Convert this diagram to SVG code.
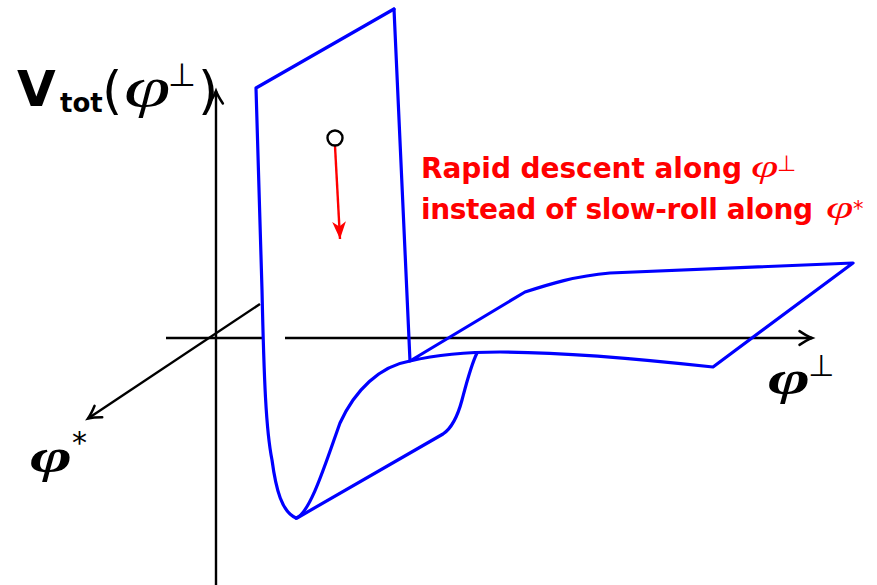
<svg xmlns="http://www.w3.org/2000/svg" width="877" height="585" viewBox="0 0 877 585">
<style>
.ax{stroke:#000;stroke-width:2.4;fill:none}
.bl{stroke:#0000ff;stroke-width:3.2;fill:none;stroke-linejoin:round;stroke-linecap:round}
.red{fill:#ff0000;font-family:"DejaVu Sans",sans-serif;font-weight:bold;font-size:28px}
.m{font-family:"Liberation Serif",serif;font-style:italic}
.s{font-family:"DejaVu Sans",sans-serif}
</style>
<defs>
<marker id="arr" markerUnits="userSpaceOnUse" markerWidth="20" markerHeight="20" refX="0" refY="0" viewBox="-12 -8 14 16" orient="auto" overflow="visible">
<path d="M -10,-5.5 Q -4,-1.5 0,0 Q -4,1.5 -10,5.5" stroke="#000" stroke-width="2" fill="none" stroke-linecap="round"/>
</marker>
<marker id="rarr" markerUnits="userSpaceOnUse" markerWidth="20" markerHeight="20" refX="0" refY="0" viewBox="-14 -7 16 14" orient="auto" overflow="visible">
<path d="M 0,0 L -14,-5.5 L -10,0 L -14,5.5 Z" fill="#ff0000"/>
</marker>
</defs>
<g id="connectors">
<line class="ax" x1="216" y1="585" x2="216" y2="91" marker-end="url(#arr)"/>
<line class="ax" x1="166" y1="338" x2="264" y2="338"/>
<line class="ax" x1="285" y1="338" x2="812" y2="338" marker-end="url(#arr)"/>
<line class="ax" x1="260" y1="304" x2="88" y2="418.5" marker-end="url(#arr)"/>
<line x1="335" y1="146" x2="340" y2="239" stroke="#ff0000" stroke-width="2.4" marker-end="url(#rarr)"/>
</g>
<g id="surface">
<path class="bl" d="M 394,9 L 256,88 L 262,290 C 264,380 266,430 272,460 C 276,490 282,512 296,518"/>
<path class="bl" d="M 394,9 L 410,361"/>
<path class="bl" d="M 296,518 C 310,514 326,462 340,423 C 355,390 380,366 410,361 C 440,354 470,352 500,352 C 560,352 650,360 713,367 L 853,263 L 610,273 C 575,276 550,284 525,292 L 410,361"/>
<path class="bl" d="M 297,518 L 443,434 C 452,428 458,415 462,400 C 466,385 471,365 477,353"/>
</g>
<g id="ball">
<circle cx="335" cy="138" r="7.5" fill="#fff" stroke="#000" stroke-width="2.4"/>
</g>
<g id="label-V">
<text x="17" y="106" class="s" font-weight="bold" font-size="50">V</text>
<text x="60" y="112" class="s" font-weight="bold" font-size="26">tot</text>
<text x="102" y="108" class="s" font-size="52">(</text>
<text transform="translate(124,106) scale(1.5,1)" class="m" font-size="56">φ</text>
<text x="168" y="86" class="s" font-size="32">⊥</text>
<text x="198" y="108" class="s" font-size="52">)</text>
</g>
<g id="label-note">
<text x="421" y="178" class="red" textLength="321">Rapid descent along</text>
<text transform="translate(751,177) scale(1.55,1)" class="m" fill="#ff0000" font-size="32">φ</text>
<text x="777" y="171" class="s" fill="#ff0000" font-size="22">⊥</text>
<text x="421" y="219" class="red" textLength="392">instead of slow-roll along</text>
<text transform="translate(826,218) scale(1.55,1)" class="m" fill="#ff0000" font-size="32">φ</text>
<text x="853" y="216" class="s" fill="#ff0000" font-size="21">*</text>
</g>
<g id="label-perp">
<text transform="translate(768,394) scale(1.5,1)" class="m" font-weight="bold" font-size="48">φ</text>
<text x="808" y="376" class="s" font-size="30">⊥</text>
</g>
<g id="label-star">
<text transform="translate(30,472) scale(1.5,1)" class="m" font-weight="bold" font-size="48">φ</text>
<text x="72" y="453" class="s" font-size="30">*</text>
</g>
</svg>
